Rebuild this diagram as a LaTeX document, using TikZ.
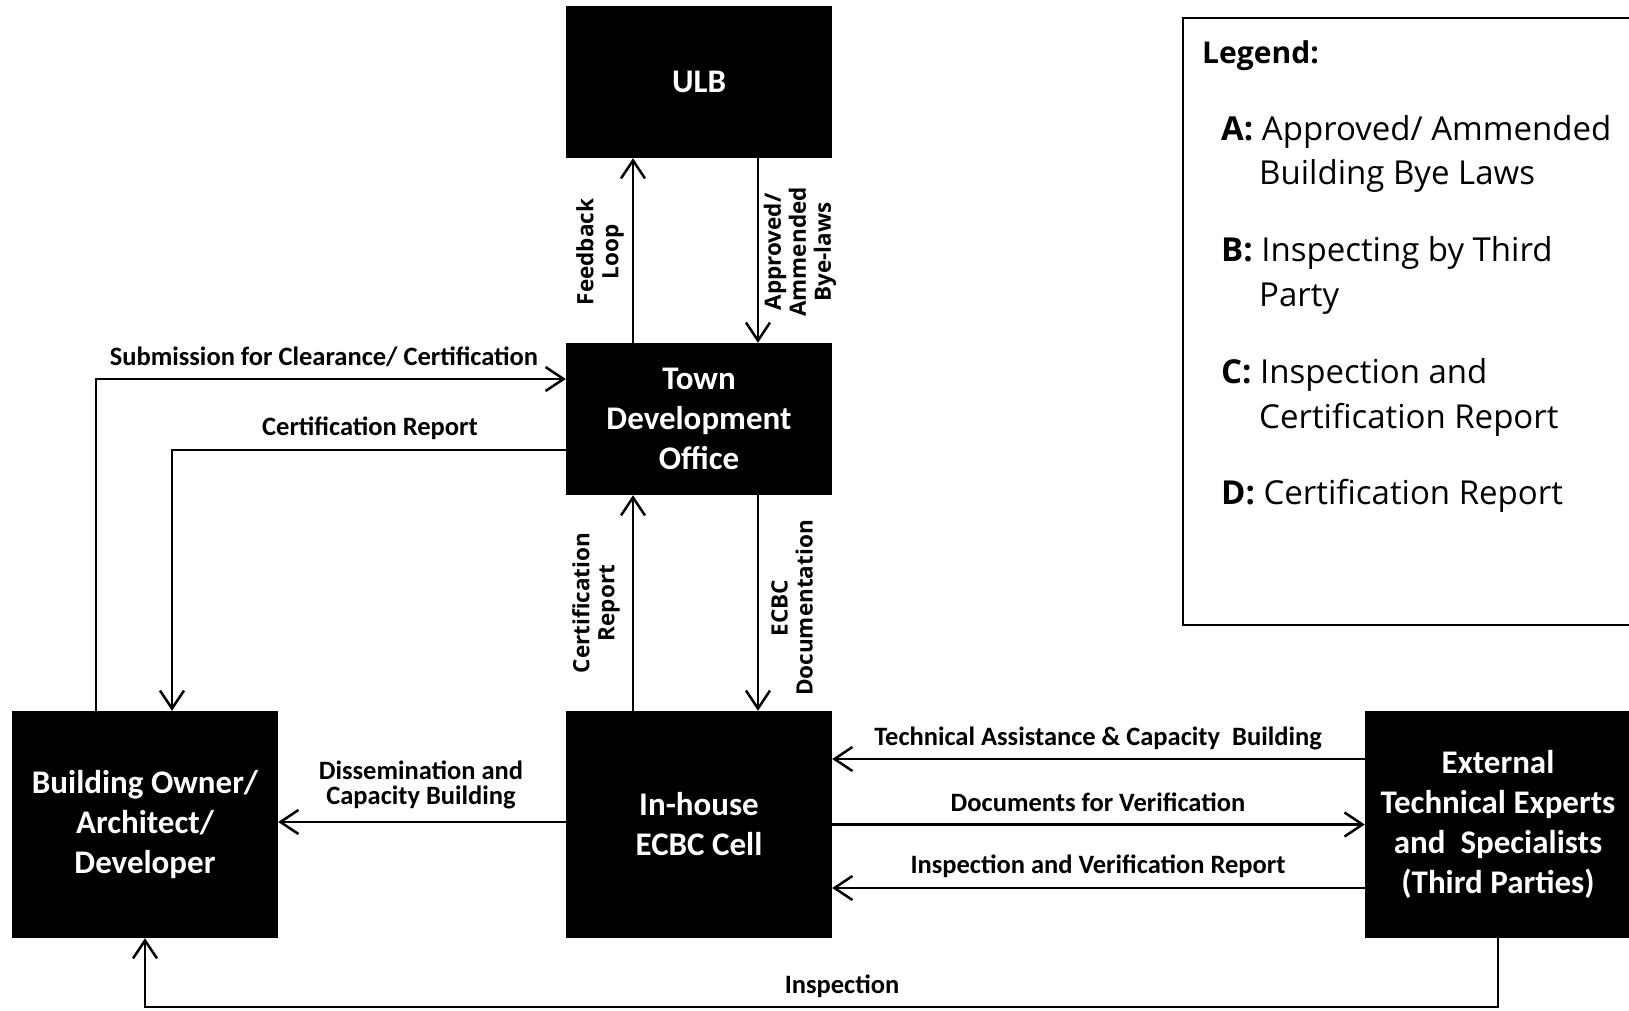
\documentclass[tikz,border=0pt]{standalone}
\usepackage{fontspec}
\setmainfont{Carlito}
\newfontfamily\osans{Open Sans}
\usetikzlibrary{arrows.meta}
\begin{document}
\begin{tikzpicture}[x=1pt,y=-1pt,
  box/.style={fill=black, text=white, inner sep=0pt, minimum width=266pt, align=center,
    font=\fontsize{33}{40}\selectfont\bfseries},
  arr/.style={line width=2.5pt, -{Straight Barb[length=18pt,width=24pt,line width=2.5pt]}},
  lab/.style={inner sep=0pt, align=center, font=\fontsize{26.5}{25}\selectfont\bfseries},
  vlab/.style={inner sep=0pt, align=center, rotate=90, font=\osans\fontsize{22.5}{25}\selectfont\bfseries},
  leg/.style={inner sep=0pt, anchor=base west, font=\osans\fontsize{33}{40}\selectfont}
]
\useasboundingbox (0,0) rectangle (1629,1010);

% boxes
\node[box, minimum height=152pt] (ULB) at (699,82) {ULB};
\node[box, minimum height=152pt] (TDO) at (699,419) {Town\\Development\\Office};
\node[box, minimum height=227pt] (ECBC) at (699,824.5) {In-house\\ECBC Cell};
\node[box, minimum height=227pt] (Owner) at (145,824.5) {Building Owner/\\Architect/\\Developer};
\node[box, minimum height=227pt] (Ext) at (1498,824.5) {External\\Technical Experts\\and~ Specialists\\(Third Parties)};

% legend
\node[draw, line width=2pt, minimum width=460pt, minimum height=607pt, anchor=north west, inner sep=0pt] (legend) at (1182,17) {};
\node[leg, font=\osans\fontsize{30}{40}\selectfont\bfseries] (legT) at (1202,63) {Legend:};
\node[leg] (legA1) at (1221,140) {\textbf{A:} Approved/ Ammended};
\node[leg] (legA2) at (1259,184) {Building Bye Laws};
\node[leg] (legB1) at (1221,261) {\textbf{B:} Inspecting by Third};
\node[leg] (legB2) at (1259,306) {Party};
\node[leg] (legC1) at (1221,383) {\textbf{C:} Inspection and};
\node[leg] (legC2) at (1259,428) {Certification Report};
\node[leg] (legD) at (1221,504) {\textbf{D:} Certification Report};

% ULB <-> TDO
\draw[arr] ([xshift=-66pt]TDO.north) -- ([xshift=-66pt]ULB.south);
\draw[arr] ([xshift=59pt]ULB.south) -- ([xshift=59pt]TDO.north);
\node[vlab] (lFeed) at (600,252) {Feedback\\Loop};
\node[vlab] (lAppr) at (800,252) {Approved/\\Ammended\\Bye-laws};

% TDO <-> ECBC
\draw[arr] ([xshift=-66pt]ECBC.north) -- ([xshift=-66pt]TDO.south);
\draw[arr] ([xshift=59pt]TDO.south) -- ([xshift=59pt]ECBC.north);
\node[vlab] (lCertV) at (596,603) {Certification\\Report};
\node[vlab] (lDoc) at (792,608) {ECBC\\Documentation};

% Owner <-> TDO
\draw[arr] ([xshift=-49pt]Owner.north) |- ([yshift=40pt]TDO.west);
\draw[arr] ([yshift=-31pt]TDO.west) -| ([xshift=27pt]Owner.north);
\node[lab] (lSub) at (324,357) {Submission for Clearance/ Certification};
\node[lab] (lCert) at (370,428) {Certification Report};

% ECBC -> Owner
\draw[arr] ([yshift=2.5pt]ECBC.west) -- ([yshift=2.5pt]Owner.east);
\node[lab] (lDiss) at (421,785) {Dissemination and\\Capacity Building};

% ECBC <-> Ext
\draw[arr] ([yshift=65.5pt]Ext.west) -- ([yshift=65.5pt]ECBC.east);
\draw[arr] (ECBC.east) -- (Ext.west);
\draw[arr] ([yshift=-63.5pt]Ext.west) -- ([yshift=-63.5pt]ECBC.east);
\node[lab] (lTech) at (1098,738) {Technical Assistance \& Capacity~ Building};
\node[lab] (lDocV) at (1098,802) {Documents for Verification};
\node[lab] (lInsV) at (1098,866) {Inspection and Verification Report};

% Inspection
\draw[arr] (Ext.south) -- ++(0,69) -| (Owner.south);
\node[lab] (lInsp) at (842,986) {Inspection};
\end{tikzpicture}
\end{document}
